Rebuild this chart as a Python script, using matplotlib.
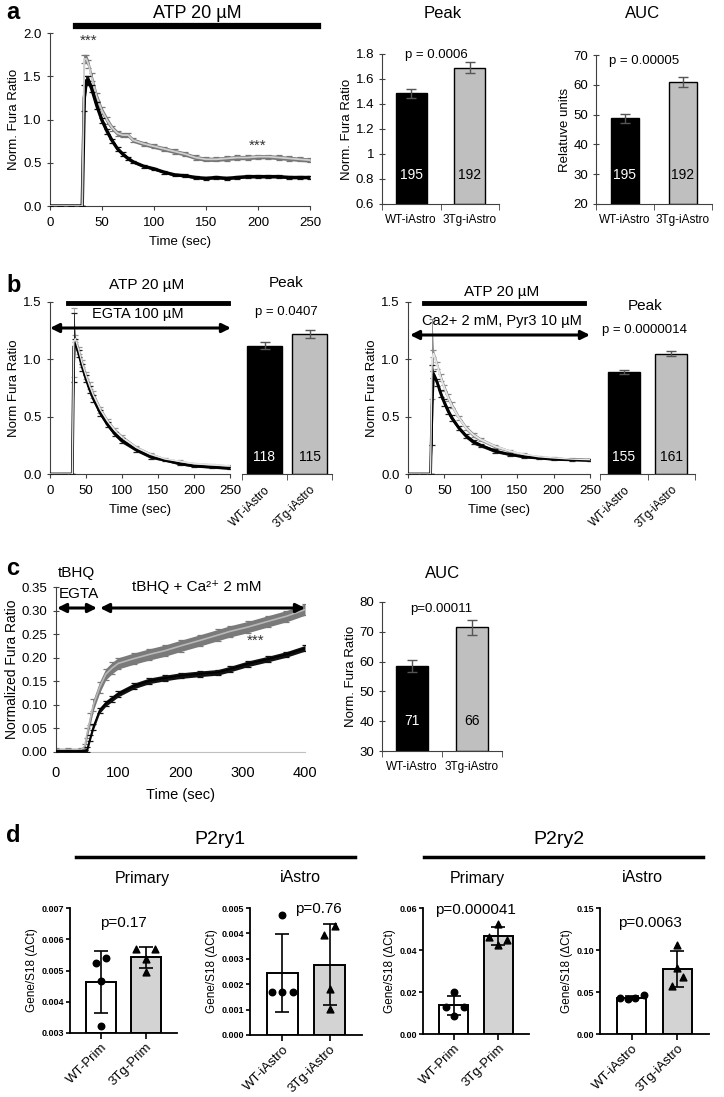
import numpy as np
import matplotlib
matplotlib.use('Agg')
import matplotlib.pyplot as plt
from matplotlib.lines import Line2D

plt.rcParams['font.family'] = ['Liberation Sans', 'DejaVu Sans']

# ---------------- data ----------------
groups = ['WT-iAstro', '3Tg-iAstro']

# panel a: ATP 20 uM traces
a_time = [0, 10, 20, 31, 33, 35, 37, 40, 45, 50, 55, 60, 65, 70, 75, 80, 90, 100,
          110, 120, 130, 140, 150, 160, 170, 180, 190, 200, 210, 220, 230, 240, 250]
a_wt = [0, 0, 0, 0, 1.25, 1.45, 1.45, 1.36, 1.16, 0.99, 0.86, 0.75, 0.66, 0.60, 0.55,
        0.51, 0.46, 0.43, 0.39, 0.36, 0.35, 0.33, 0.32, 0.33, 0.32, 0.33, 0.34, 0.34,
        0.34, 0.34, 0.33, 0.33, 0.33]
a_wt_sem = [0, 0, 0, 0, 0.15, 0.05, 0.05, 0.04, 0.04, 0.03, 0.03, 0.02, 0.02, 0.02,
            0.02, 0.015, 0.015, 0.015, 0.015, 0.015, 0.015, 0.015, 0.015, 0.015, 0.015,
            0.015, 0.015, 0.015, 0.015, 0.015, 0.015, 0.015, 0.015]
a_tg = [0, 0, 0, 0, 1.70, 1.70, 1.64, 1.49, 1.26, 1.10, 0.99, 0.90, 0.84, 0.82, 0.82,
        0.76, 0.72, 0.69, 0.66, 0.63, 0.60, 0.56, 0.54, 0.54, 0.55, 0.56, 0.56, 0.57,
        0.57, 0.56, 0.55, 0.54, 0.53]
a_tg_sem = [0, 0, 0, 0, 0.05, 0.05, 0.05, 0.05, 0.05, 0.04, 0.04, 0.03, 0.03, 0.025,
            0.025, 0.025, 0.025, 0.025, 0.025, 0.025, 0.025, 0.025, 0.025, 0.025, 0.025,
            0.025, 0.025, 0.025, 0.025, 0.025, 0.025, 0.025, 0.025]
a_peak = [1.485, 1.69]
a_peak_err = [0.035, 0.045]
a_auc = [48.7, 60.8]
a_auc_err = [1.5, 1.7]
a_n = [195, 192]

# panel b: EGTA (left) and Ca2+/Pyr3 (right)
b_time = [0, 10, 20, 31, 33, 35, 40, 45, 50, 55, 60, 70, 80, 90, 100, 120, 140, 160,
          180, 200, 225, 250]
b1_wt = [0, 0, 0, 0, 1.10, 1.15, 1.05, 0.93, 0.83, 0.74, 0.66, 0.53, 0.43, 0.35, 0.29,
         0.21, 0.15, 0.12, 0.09, 0.07, 0.06, 0.05]
b1_tg = [0, 0, 0, 0, 1.15, 1.18, 1.08, 0.96, 0.86, 0.77, 0.69, 0.56, 0.46, 0.38, 0.32,
         0.23, 0.17, 0.13, 0.11, 0.09, 0.08, 0.07]
b1_sem = [0, 0, 0, 0, 0.30, 0.03, 0.03, 0.03, 0.03, 0.03, 0.03, 0.025, 0.02, 0.02,
          0.02, 0.015, 0.015, 0.01, 0.01, 0.01, 0.01, 0.01]
b1_peak = [1.12, 1.22]
b1_peak_err = [0.03, 0.035]
b1_n = [118, 115]

b2_wt = [0, 0, 0, 0, 0.60, 0.87, 0.80, 0.70, 0.62, 0.55, 0.49, 0.40, 0.33, 0.28, 0.25,
         0.20, 0.17, 0.15, 0.14, 0.13, 0.125, 0.12]
b2_tg = [0, 0, 0, 0, 1.00, 1.05, 0.95, 0.84, 0.75, 0.67, 0.60, 0.49, 0.40, 0.34, 0.30,
         0.24, 0.20, 0.17, 0.15, 0.14, 0.13, 0.125]
b2_sem = [0, 0, 0, 0, 0.35, 0.03, 0.03, 0.03, 0.03, 0.03, 0.025, 0.02, 0.02, 0.02,
          0.015, 0.015, 0.01, 0.01, 0.01, 0.01, 0.01, 0.01]
b2_peak = [0.89, 1.05]
b2_peak_err = [0.02, 0.02]
b2_n = [155, 161]

# panel c: tBHQ store depletion, then Ca2+ 2 mM
c_time = [0, 20, 40, 46, 50, 55, 60, 70, 80, 90, 100, 125, 150, 175, 200, 232, 260,
          280, 308, 340, 370, 400]
c_wt = [0.002, 0.002, 0.002, 0.002, 0.005, 0.030, 0.053, 0.088, 0.103, 0.113, 0.123,
        0.140, 0.151, 0.157, 0.162, 0.166, 0.169, 0.176, 0.187, 0.197, 0.207, 0.220]
c_tg = [0.005, 0.005, 0.005, 0.010, 0.040, 0.070, 0.100, 0.137, 0.165, 0.178, 0.188,
        0.198, 0.207, 0.215, 0.225, 0.237, 0.248, 0.256, 0.265, 0.277, 0.288, 0.302]
c_wt_sem = [0.003, 0.003, 0.003, 0.003, 0.005, 0.006, 0.006, 0.006, 0.006, 0.006,
            0.006, 0.006, 0.006, 0.006, 0.006, 0.006, 0.006, 0.006, 0.006, 0.006,
            0.006, 0.006]
c_tg_sem = [0.003, 0.003, 0.003, 0.006, 0.010, 0.012, 0.012, 0.012, 0.012, 0.012,
            0.012, 0.012, 0.012, 0.012, 0.012, 0.012, 0.012, 0.012, 0.012, 0.012,
            0.012, 0.012]
c_auc = [58.5, 71.5]
c_auc_err = [2.0, 2.5]
c_n = [71, 66]

# panel d: qPCR, Gene/S18
p2ry1_prim_wt = [0.00524, 0.00540, 0.00468, 0.00323]
p2ry1_prim_tg = [0.00568, 0.00568, 0.00536, 0.00496]
p2ry1_ia_wt = [0.00473, 0.00168, 0.00168, 0.00168]
p2ry1_ia_tg = [0.00430, 0.00394, 0.00182, 0.00102]
p2ry2_prim_wt = [0.0199, 0.0130, 0.0130, 0.0088]
p2ry2_prim_tg = [0.0525, 0.0460, 0.0450, 0.0425]
p2ry2_ia_wt = [0.0430, 0.0415, 0.0425, 0.0465]
p2ry2_ia_tg = [0.106, 0.078, 0.068, 0.057]

# ---------------- figure ----------------
W, H = 724, 1097
fig = plt.figure(figsize=(W / 100, H / 100), dpi=100)


def px_axes(l, t, r, b):
    return fig.add_axes([l / W, 1 - b / H, (r - l) / W, (b - t) / H])


def ftext(x, y, s, **kw):
    kw.setdefault('ha', 'center')
    kw.setdefault('va', 'center')
    fig.text(x / W, 1 - y / H, s, **kw)


def fline(x0, x1, y, lw=4):
    fig.add_artist(Line2D([x0 / W, x1 / W], [1 - y / H, 1 - y / H], color='k', lw=lw,
                          transform=fig.transFigure))


def farrow(x0, x1, y):
    fig.add_artist(matplotlib.patches.FancyArrowPatch(
        (x0 / W, 1 - y / H), (x1 / W, 1 - y / H), transform=fig.transFigure,
        arrowstyle='<|-|>', mutation_scale=13, lw=2.2, color='k',
        shrinkA=0, shrinkB=0))


def trace_axes(ax, xlim, ylim, yticks, fmt, ylabel, xtick_step, xcolor='#404040'):
    ax.set_xlim(*xlim)
    ax.set_ylim(*ylim)
    for s in ['top', 'right']:
        ax.spines[s].set_visible(False)
    ax.spines['left'].set_color('#404040')
    ax.spines['bottom'].set_color(xcolor)
    ax.set_yticks(yticks)
    ax.set_yticklabels([fmt % v for v in yticks])
    ax.set_xticks(np.arange(xlim[0], xlim[1] + 1, xtick_step))
    ax.tick_params(labelsize=9.5, length=3, color='#404040', width=0.8)
    ax.tick_params(axis='x', pad=5)
    ax.tick_params(axis='y', direction='inout', length=5)
    ax.set_xlabel('Time (sec)', fontsize=9.5, labelpad=5)
    ax.set_ylabel(ylabel, fontsize=9.5, labelpad=2)


def draw_trace(ax, t, m, e, band, line, lw, cap_color=None, zorder=2):
    t = np.array(t)
    m = np.array(m)
    e = np.array(e)
    ax.fill_between(t, m - e, m + e, color=band, lw=0, zorder=zorder)
    ax.errorbar(t, m, yerr=e, fmt='none', ecolor=cap_color or band, elinewidth=0.6,
                capsize=2.5, capthick=0.9, zorder=zorder)
    ax.plot(t, m, color=line, lw=lw, zorder=zorder + 0.1, solid_capstyle='butt')


def bar_pair(ax, vals, errs, ns, ylim, n_y, show_y=True, yticks=None, ylabels=None,
             ylabel=None, rotate=False, width=0.52):
    ax.bar([0, 1], [v - ylim[0] for v in vals], bottom=ylim[0], width=width,
           color=['k', '#bfbfbf'], edgecolor='k', lw=1)
    ax.errorbar([0, 1], vals, yerr=errs, fmt='none', ecolor='#555555', capsize=3.5,
                elinewidth=1, capthick=1)
    ax.text(0, n_y, str(ns[0]), color='w', ha='center', va='center', fontsize=10)
    ax.text(1, n_y, str(ns[1]), color='k', ha='center', va='center', fontsize=10)
    ax.set_xlim(-0.5, 1.5)
    ax.set_ylim(*ylim)
    for s in ['top', 'right']:
        ax.spines[s].set_visible(False)
    ax.set_xticks([0, 1])
    ax.set_xticks([-0.5, 0.5, 1.5], minor=True)
    ax.tick_params(axis='x', which='major', length=0, labelsize=8.5, pad=7)
    ax.tick_params(axis='x', which='minor', length=4, direction='out', color='#404040')
    if rotate:
        ax.set_xticklabels(groups, rotation=45, ha='right', rotation_mode='anchor')
    else:
        ax.set_xticklabels(groups)
    ax.spines['bottom'].set_color('#404040')
    if show_y:
        ax.set_yticks(yticks)
        ax.set_yticklabels(ylabels)
        ax.spines['left'].set_color('#404040')
        ax.tick_params(axis='y', labelsize=9.5, length=4, direction='inout',
                       color='#404040')
        ax.set_ylabel(ylabel, fontsize=9.5, labelpad=2)
    else:
        ax.spines['left'].set_visible(False)
        ax.set_yticks([])


# ---------- a ----------
ftext(6, 1, 'a', fontsize=17, fontweight='bold', ha='left', va='top')
ftext(197, 13, 'ATP 20 µM', fontsize=13)
fline(76, 318, 26, lw=4.5)

ax = px_axes(50, 33, 310, 206)
draw_trace(ax, a_time, a_tg, a_tg_sem, '#777777', '#cfcfcf', 1.3)
draw_trace(ax, a_time, a_wt, a_wt_sem, '#111111', 'k', 2.4, zorder=3)
ax.plot(a_time[:5], a_tg[:5], color='#cfcfcf', lw=1.3, zorder=4)
trace_axes(ax, (0, 250), (0, 2.0), [0, 0.5, 1.0, 1.5, 2.0], '%.1f', 'Norm. Fura Ratio', 50)
ax.text(37, 1.91, '***', ha='center', va='center', fontsize=11, color='#333333')
ax.text(200, 0.70, '***', ha='center', va='center', fontsize=11, color='#333333')

ftext(443, 14, 'Peak', fontsize=12)
ax = px_axes(382, 54, 499, 204)
bar_pair(ax, a_peak, a_peak_err, a_n, (0.6, 1.8), 0.83,
         yticks=[0.6, 0.8, 1.0, 1.2, 1.4, 1.6, 1.8],
         ylabels=['0.6', '0.8', '1', '1.2', '1.4', '1.6', '1.8'],
         ylabel='Norm. Fura Ratio', width=0.53)
ftext(436, 55, 'p = 0.0006', fontsize=9.5)

ftext(643, 14, 'AUC', fontsize=12)
ax = px_axes(596, 55, 712, 204)
bar_pair(ax, a_auc, a_auc_err, a_n, (20, 70), 29.7,
         yticks=[20, 30, 40, 50, 60, 70], ylabels=['20', '30', '40', '50', '60', '70'],
         ylabel='Relatuve units', width=0.48)
ftext(644, 61, 'p = 0.00005', fontsize=9.5)

# ---------- b ----------
ftext(6, 285, 'b', fontsize=17, fontweight='bold', ha='left')

ax = px_axes(50, 302, 230, 474)
draw_trace(ax, b_time, b1_tg, b1_sem, '#9a9a9a', '#dedede', 1.2)
draw_trace(ax, b_time, b1_wt, b1_sem, '#222222', 'k', 2.0, zorder=3)
ax.plot(b_time, b1_tg, color='#e6e6e6', lw=1.0, zorder=4)
trace_axes(ax, (0, 250), (0, 1.5), [0, 0.5, 1.0, 1.5], '%.1f', 'Norm Fura Ratio', 50)
ftext(147, 285, 'ATP 20 µM', fontsize=11)
fline(68, 228, 303, lw=3.5)
ftext(138, 314, 'EGTA 100 µM', fontsize=10.5)
farrow(50, 231, 328)

ax = px_axes(242, 302, 332, 474)
bar_pair(ax, b1_peak, b1_peak_err, b1_n, (0, 1.5), 0.15, show_y=False, rotate=True,
         width=0.76)
ftext(286, 283, 'Peak', fontsize=11)
ftext(286, 312, 'p = 0.0407', fontsize=9.5)

ax = px_axes(408, 302, 590, 474)
draw_trace(ax, b_time, b2_tg, b2_sem, '#8a8a8a', '#dedede', 1.2)
draw_trace(ax, b_time, b2_wt, b2_sem, '#222222', 'k', 2.0, zorder=3)
ax.plot(b_time, b2_tg, color='#e6e6e6', lw=1.0, zorder=4)
trace_axes(ax, (0, 250), (0, 1.5), [0, 0.5, 1.0, 1.5], '%.1f', 'Norm Fura Ratio', 50)
ftext(502, 292, 'ATP 20 µM', fontsize=11)
fline(424, 584, 303, lw=3.5)
ftext(502, 321, 'Ca2+ 2 mM, Pyr3 10 µM', fontsize=10.5)
farrow(410, 590, 335)

ax = px_axes(600, 302, 695, 474)
bar_pair(ax, b2_peak, b2_peak_err, b2_n, (0, 1.5), 0.15, show_y=False, rotate=True,
         width=0.68)
ftext(645, 306, 'Peak', fontsize=11)
ftext(645, 330, 'p = 0.0000014', fontsize=9.5)

# ---------- c ----------
ftext(6, 569, 'c', fontsize=17, fontweight='bold', ha='left')
ax = px_axes(56, 587, 305, 752)
draw_trace(ax, c_time, c_tg, c_tg_sem, '#7a7a7a', '#b8b8b8', 1.2)
draw_trace(ax, c_time, c_wt, c_wt_sem, '#111111', 'k', 1.2, zorder=3)
trace_axes(ax, (0, 400), (0, 0.35), [0, 0.05, 0.10, 0.15, 0.20, 0.25, 0.30, 0.35],
           '%.2f', 'Normalized Fura Ratio', 100, xcolor='#c0c0c0')
ax.tick_params(axis='x', length=0, labelsize=10.5, pad=10)
ax.tick_params(axis='y', labelsize=9.5)
ax.xaxis.label.set_size(10.5)
ax.xaxis.labelpad = 6
ax.yaxis.label.set_size(10)
ax.text(320, 0.235, '***', ha='center', va='center', fontsize=11, color='#333333')
ftext(76, 573, 'tBHQ', fontsize=11)
ftext(79, 594, 'EGTA', fontsize=11)
ftext(197, 587, 'tBHQ + Ca²⁺ 2 mM', fontsize=11)
farrow(57, 97, 608)
farrow(100, 305, 608)

ftext(443, 573, 'AUC', fontsize=12)
ax = px_axes(382, 602, 502, 751)
bar_pair(ax, c_auc, c_auc_err, c_n, (30, 80), 40,
         yticks=[30, 40, 50, 60, 70, 80], ylabels=['30', '40', '50', '60', '70', '80'],
         ylabel='Norm. Fura Ratio', width=0.52)
ftext(441, 609, 'p=0.00011', fontsize=9.5)

# ---------- d ----------
ftext(6, 835, 'd', fontsize=17, fontweight='bold', ha='left')
ftext(220, 840, 'P2ry1', fontsize=14)
fline(76, 355, 857, lw=2.5)
ftext(559, 840, 'P2ry2', fontsize=14)
fline(424, 703, 857, lw=2.5)
ftext(142, 878, 'Primary', fontsize=11.5)
ftext(300, 878, 'iAstro', fontsize=11.5)
ftext(477, 878, 'Primary', fontsize=11.5)
ftext(642, 878, 'iAstro', fontsize=11.5)


def qpcr(ax, wt, tg, wt_dx, tg_dx, ylim, yticks, ytl, xl, ptxt, pxy):
    means = [np.mean(wt), np.mean(tg)]
    sds = [np.std(wt, ddof=1), np.std(tg, ddof=1)]
    ax.bar([0, 1], [m - ylim[0] for m in means], bottom=ylim[0], width=0.65,
           color=['white', '#d3d3d3'], edgecolor='k', lw=1.4, zorder=1)
    ax.errorbar([0, 1], means, yerr=sds, fmt='none', ecolor='k', elinewidth=1.2,
                capsize=5, capthick=1.2, zorder=3)
    ax.scatter(np.array(wt_dx), wt, marker='o', s=22, color='k', zorder=4)
    ax.scatter(1 + np.array(tg_dx), tg, marker='^', s=24, color='k', zorder=4)
    ax.set_xlim(-0.69, 1.69)
    ax.set_ylim(*ylim)
    for s in ['top', 'right']:
        ax.spines[s].set_visible(False)
    for s in ['left', 'bottom']:
        ax.spines[s].set_linewidth(1.3)
    ax.set_yticks(yticks)
    ax.set_yticklabels(ytl, fontweight='bold')
    ax.set_xticks([0, 1])
    ax.set_xticklabels(xl, rotation=45, ha='right', rotation_mode='anchor', fontsize=9.5)
    ax.tick_params(axis='y', labelsize=6.5, length=3, width=1.2, pad=1)
    ax.tick_params(axis='x', length=4, width=1.2, pad=2)
    ax.set_ylabel('Gene/S18 (ΔCt)', fontsize=8.5, labelpad=3)
    ftext(pxy[0], pxy[1], ptxt, fontsize=11)


ax = px_axes(70, 908, 177, 1033)
qpcr(ax, p2ry1_prim_wt, p2ry1_prim_tg, [-0.12, 0.12, 0, 0], [-0.22, 0.2, 0, 0],
     (0.003, 0.007), [0.003, 0.004, 0.005, 0.006, 0.007],
     ['0.003', '0.004', '0.005', '0.006', '0.007'], ['WT-Prim', '3Tg-Prim'],
     'p=0.17', (123, 923))

ax = px_axes(250, 908, 362, 1035)
qpcr(ax, p2ry1_ia_wt, p2ry1_ia_tg, [0, -0.22, 0, 0.22], [0.12, -0.12, 0, 0],
     (0, 0.005), [0, 0.001, 0.002, 0.003, 0.004, 0.005],
     ['0.000', '0.001', '0.002', '0.003', '0.004', '0.005'], ['WT-iAstro', '3Tg-iAstro'],
     'p=0.76', (318, 909))

ax = px_axes(423, 908, 529, 1034)
qpcr(ax, p2ry2_prim_wt, p2ry2_prim_tg, [0, -0.18, 0.22, 0], [0, -0.2, 0.2, 0],
     (0, 0.06), [0, 0.02, 0.04, 0.06], ['0.00', '0.02', '0.04', '0.06'],
     ['WT-Prim', '3Tg-Prim'], 'p=0.000041', (475, 910))

ax = px_axes(600, 908, 709, 1034)
qpcr(ax, p2ry2_ia_wt, p2ry2_ia_tg, [-0.25, -0.08, 0.08, 0.26], [0, 0, 0.12, -0.12],
     (0, 0.15), [0, 0.05, 0.10, 0.15], ['0.00', '0.05', '0.10', '0.15'],
     ['WT-iAstro', '3Tg-iAstro'], 'p=0.0063', (650, 923))

fig.savefig('out.png', dpi=100)
